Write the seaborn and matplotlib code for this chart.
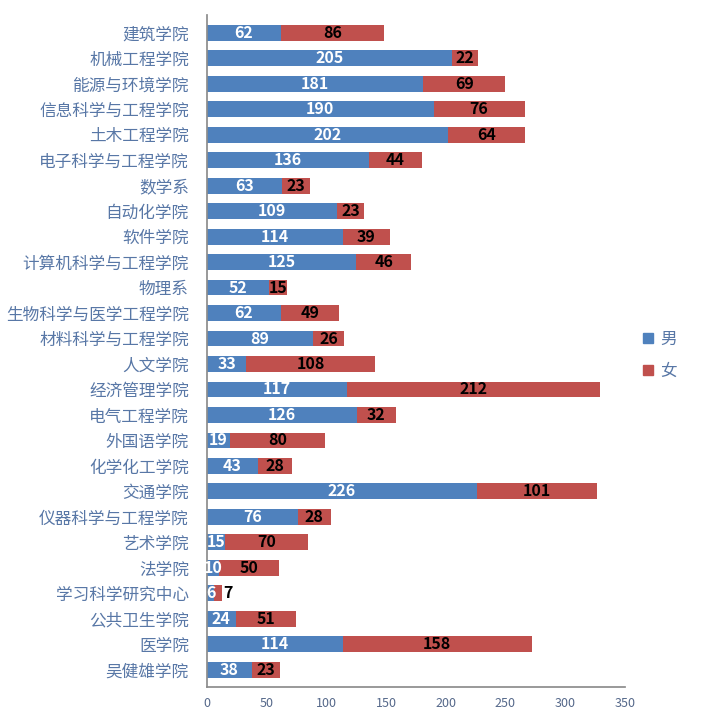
import matplotlib
matplotlib.use('Agg')
import numpy as np
import pandas as pd
import matplotlib.pyplot as plt
import seaborn as sns
from matplotlib.patches import Patch

# données : nombre d'étudiants par école (男 / 女)
schools = ['建筑学院', '机械工程学院', '能源与环境学院', '信息科学与工程学院', '土木工程学院',
           '电子科学与工程学院', '数学系', '自动化学院', '软件学院', '计算机科学与工程学院',
           '物理系', '生物科学与医学工程学院', '材料科学与工程学院', '人文学院', '经济管理学院',
           '电气工程学院', '外国语学院', '化学化工学院', '交通学院', '仪器科学与工程学院',
           '艺术学院', '法学院', '学习科学研究中心', '公共卫生学院', '医学院', '吴健雄学院']
male = [62, 205, 181, 190, 202, 136, 63, 109, 114, 125, 52, 62, 89, 33, 117,
        126, 19, 43, 226, 76, 15, 10, 6, 24, 114, 38]
female = [86, 22, 69, 76, 64, 44, 23, 23, 39, 46, 15, 49, 26, 108, 212,
          32, 80, 28, 101, 28, 70, 50, 7, 51, 158, 23]

df = pd.DataFrame({'school': schools, 'male': male, 'female': female})
df['total'] = df['male'] + df['female']

sns.set_theme(style="white")
plt.rcParams['font.family'] = ['Noto Sans CJK SC', 'DejaVu Sans']

blue = '#4F81BD'
red = '#C0504D'
label_col = '#5877A6'

fig = plt.figure(figsize=(7.06, 7.11), dpi=100)
ax = fig.add_axes([0.293, 0.034, 0.592, 0.945])

# barres empilées : total en rouge, puis homme en bleu par-dessus
sns.barplot(data=df, x='total', y='school', color=red, orient='h', width=0.62,
            saturation=1, ax=ax, edgecolor='none')
sns.barplot(data=df, x='male', y='school', color=blue, orient='h', width=0.62,
            saturation=1, ax=ax, edgecolor='none')

# nombres dans les barres (petits segments : à droite de la barre)
for i, (m, f) in enumerate(zip(df['male'], df['female'])):
    ax.text(m / 2, i, str(m), ha='center', va='center', color='white',
            fontsize=11.5, fontweight='bold')
    if f < 10:
        ax.text(m + f + 1, i, str(f), ha='left', va='center', color='black',
                fontsize=11.5, fontweight='bold')
    else:
        ax.text(m + f / 2, i, str(f), ha='center', va='center', color='black',
                fontsize=11.5, fontweight='bold')

ax.set_xlim(0, 350)
ax.set_ylim(len(schools) - 0.33, -0.7)
ax.set_xticks(range(0, 351, 50))
ax.set_xlabel('')
ax.set_ylabel('')

for side in ['top', 'right']:
    ax.spines[side].set_visible(False)
for side in ['left', 'bottom']:
    ax.spines[side].set_color('#8C8C8C')

ax.tick_params(axis='y', length=0, labelsize=12, labelcolor=label_col, pad=13)
ax.set_yticks(np.arange(-0.5, len(schools), 1), minor=True)
ax.tick_params(axis='y', which='minor', length=4, color='#8C8C8C', direction='out')
ax.tick_params(axis='x', length=4, color='#8C8C8C', labelsize=9, labelcolor='#55688A')

handles = [Patch(color=blue, label='男'), Patch(color=red, label='女')]
fig.legend(handles=handles, loc='center left', bbox_to_anchor=(0.89, 0.5),
           frameon=False, fontsize=12, handlelength=0.6, handleheight=0.6,
           handletextpad=0.4, labelspacing=0.9, labelcolor=label_col)

plt.savefig('out.png', dpi=100)
